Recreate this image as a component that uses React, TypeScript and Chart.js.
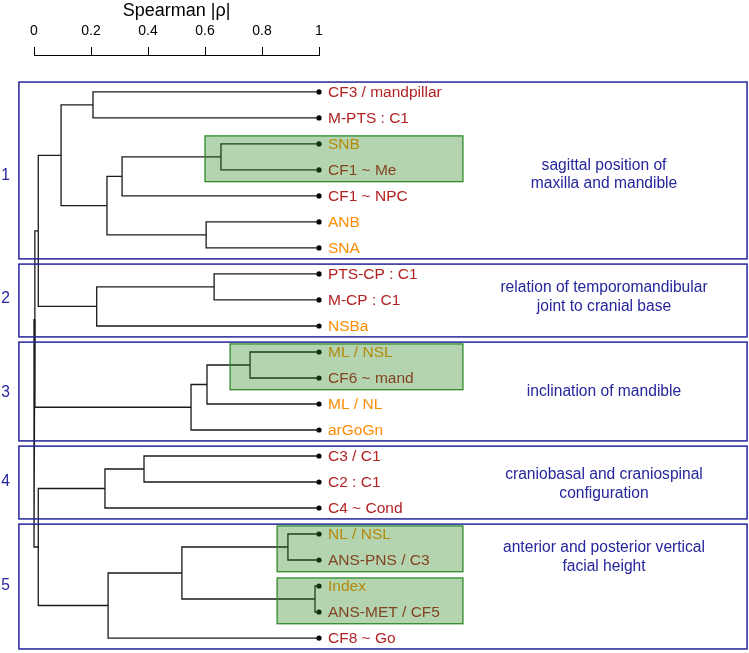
import React, { useEffect, useRef } from 'react';
import { Chart, registerables } from 'chart.js';

Chart.register(...registerables);

// ---- data ----
const leafLabels = [
  'CF3 / mandpillar', 'M-PTS : C1', 'SNB', 'CF1 ~ Me', 'CF1 ~ NPC', 'ANB', 'SNA',
  'PTS-CP : C1', 'M-CP : C1', 'NSBa',
  'ML / NSL', 'CF6 ~ mand', 'ML / NL', 'arGoGn',
  'C3 / C1', 'C2 : C1', 'C4 ~ Cond',
  'NL / NSL', 'ANS-PNS / C3', 'Index', 'ANS-MET / CF5', 'CF8 ~ Go',
];
const leafKinds = ['r', 'r', 'o', 'r', 'r', 'o', 'o', 'r', 'r', 'o', 'o', 'r', 'o', 'o', 'r', 'r', 'r', 'o', 'r', 'o', 'r', 'r'];

// hclust-style merges: negative = leaf -(index+1), positive = merge number (1-based)
const mergeLeft = [-1, -3, 2, -6, 3, 1, -8, 7, 6, -11, 10, 11, 9, -15, 14, -18, -20, 16, 18, 15, 13];
const mergeRight = [-2, -4, -5, -7, 4, 5, -9, -10, 8, -12, -13, -14, 12, -16, -17, -19, -21, 17, -22, 19, 20];
const mergeHeights = [0.207, 0.656, 0.309, 0.604, 0.256, 0.095, 0.632, 0.22, 0.015, 0.758, 0.607, 0.551, 0.003, 0.386, 0.249, 0.891, 0.986, 0.519, 0.26, 0.015, 0.0];

const axisTicks = [0, 0.2, 0.4, 0.6, 0.8, 1];
const axisTitle = 'Spearman |ρ|';

const clusterNames = ['1', '2', '3', '4', '5'];
const clusterFirst = [0, 7, 10, 14, 17];
const clusterLast = [6, 9, 13, 16, 21];
const clusterDescriptions = [
  ['sagittal position of', 'maxilla and mandible'],
  ['relation of temporomandibular', 'joint to cranial base'],
  ['inclination of mandible'],
  ['craniobasal and craniospinal', 'configuration'],
  ['anterior and posterior vertical', 'facial height'],
];

const highlightFirst = [2, 10, 17, 19];
const highlightLast = [3, 11, 18, 20];
const highlightFrom = [0.6, 0.688, 0.853, 0.853];

// ---- layout / styles ----
const W = 749;
const H = 653;
const FONT = '"Liberation Sans", Arial, Helvetica, sans-serif';
const RED = '#b22222';
const ORANGE = '#ff8c00';
const BLUE = '#25259c';
const LINE = '#1a1a1a';
const numberY = [3.22, 7.95, 11.55, 15.0, 18.97];
const descY = [3.19, 7.9, 11.52, 15.09, 17.89];

type P = { x: number; y: number };

function buildLinks() {
  const nodes: P[] = [];
  const pos = (id: number): P => (id < 0 ? { x: 1, y: -id - 1 } : nodes[id - 1]);
  const links: P[][] = [];
  for (let k = 0; k < mergeHeights.length; k++) {
    const a = pos(mergeLeft[k]);
    const b = pos(mergeRight[k]);
    const h = mergeHeights[k];
    links.push([
      { x: a.x, y: a.y },
      { x: h, y: a.y },
      { x: h, y: b.y },
      { x: b.x, y: b.y },
    ]);
    nodes.push({ x: h, y: (a.y + b.y) / 2 });
  }
  return links;
}

const overlayPlugin = {
  id: 'dendroOverlay',
  afterDatasetsDraw(chart: any) {
    const { ctx } = chart;
    const xs = chart.scales.x;
    const ys = chart.scales.y;
    const px = (v: number) => xs.getPixelForValue(v);
    const py = (v: number) => ys.getPixelForValue(v);
    ctx.save();

    // leaf labels
    ctx.font = `15.5px ${FONT}`;
    ctx.textBaseline = 'middle';
    ctx.textAlign = 'left';
    leafLabels.forEach((lab, i) => {
      ctx.fillStyle = leafKinds[i] === 'o' ? ORANGE : RED;
      ctx.fillText(lab, px(1) + 9, py(i) + 0.5);
    });

    // green highlight boxes (translucent, over text and lines)
    highlightFirst.forEach((f, k) => {
      const l = px(highlightFrom[k]);
      const r = px(1.505);
      const t = py(f - 0.31);
      const b = py(highlightLast[k] + 0.45);
      ctx.fillStyle = 'rgba(41,132,29,0.35)';
      ctx.fillRect(l, t, r - l, b - t);
      ctx.strokeStyle = '#2f8a2a';
      ctx.lineWidth = 1.3;
      ctx.strokeRect(l, t, r - l, b - t);
    });

    // blue cluster boxes
    clusterFirst.forEach((f, k) => {
      const l = px(-0.053);
      const r = px(2.502);
      const t = py(f - 0.38);
      const b = py(clusterLast[k] + 0.42);
      ctx.strokeStyle = BLUE;
      ctx.lineWidth = 1.5;
      ctx.strokeRect(l, t, r - l, b - t);
    });

    // cluster numbers and descriptions
    ctx.fillStyle = BLUE;
    ctx.font = `15.6px ${FONT}`;
    ctx.textAlign = 'center';
    clusterNames.forEach((n, k) => {
      ctx.fillText(n, px(-0.1), py(numberY[k]));
      const lines = clusterDescriptions[k];
      const lh = 18.5;
      const y0 = py(descY[k]) - ((lines.length - 1) * lh) / 2;
      lines.forEach((ln, j) => ctx.fillText(ln, px(2.0), y0 + j * lh));
    });

    ctx.restore();
  },
};

export default function App() {
  const ref = useRef<HTMLCanvasElement>(null);

  useEffect(() => {
    document.body.style.margin = '0';
    const canvas = ref.current;
    if (!canvas) return;
    const links = buildLinks();
    const datasets: any[] = links.map((pts) => ({
      data: pts,
      showLine: true,
      borderColor: LINE,
      borderWidth: 1.3,
      pointRadius: 0,
      fill: false,
      tension: 0,
      clip: false,
    }));
    datasets.push({
      data: leafLabels.map((_, i) => ({ x: 1, y: i })),
      showLine: false,
      pointRadius: 2.6,
      pointBackgroundColor: '#000',
      pointBorderWidth: 0,
      clip: false,
    });

    const chart = new Chart(canvas, {
      type: 'scatter',
      data: { datasets },
      options: {
        animation: false,
        responsive: false,
        devicePixelRatio: 1,
        events: [],
        layout: { padding: { left: 34, right: W - 319, top: 0, bottom: 2 } },
        plugins: { legend: { display: false }, tooltip: { enabled: false } },
        scales: {
          x: {
            type: 'linear',
            position: 'top',
            min: 0,
            max: 1,
            afterFit: (s: any) => {
              s.height = 55;
            },
            afterBuildTicks: (s: any) => {
              s.ticks = axisTicks.map((v) => ({ value: v }));
            },
            ticks: {
              color: '#000',
              font: { size: 14, family: FONT },
              padding: 7,
              maxRotation: 0,
              callback: (v: any) => String(Math.round(Number(v) * 10) / 10),
            },
            grid: {
              drawOnChartArea: false,
              drawTicks: true,
              tickLength: 8,
              color: '#000',
              lineWidth: 1,
            },
            border: { display: true, color: '#000', width: 1 },
            title: {
              display: true,
              text: axisTitle,
              color: '#000',
              font: { size: 18, family: FONT },
              padding: { top: 0, bottom: 0 },
            },
          },
          y: {
            type: 'linear',
            display: false,
            reverse: true,
            min: -1.4206,
            max: 21.422,
          },
        },
      },
      plugins: [overlayPlugin],
    } as any);
    return () => chart.destroy();
  }, []);

  return (
    <div style={{ position: 'fixed', left: 0, top: 0, width: W, height: H }}>
      <canvas ref={ref} width={W} height={H} style={{ width: W, height: H, display: 'block' }} />
    </div>
  );
}
